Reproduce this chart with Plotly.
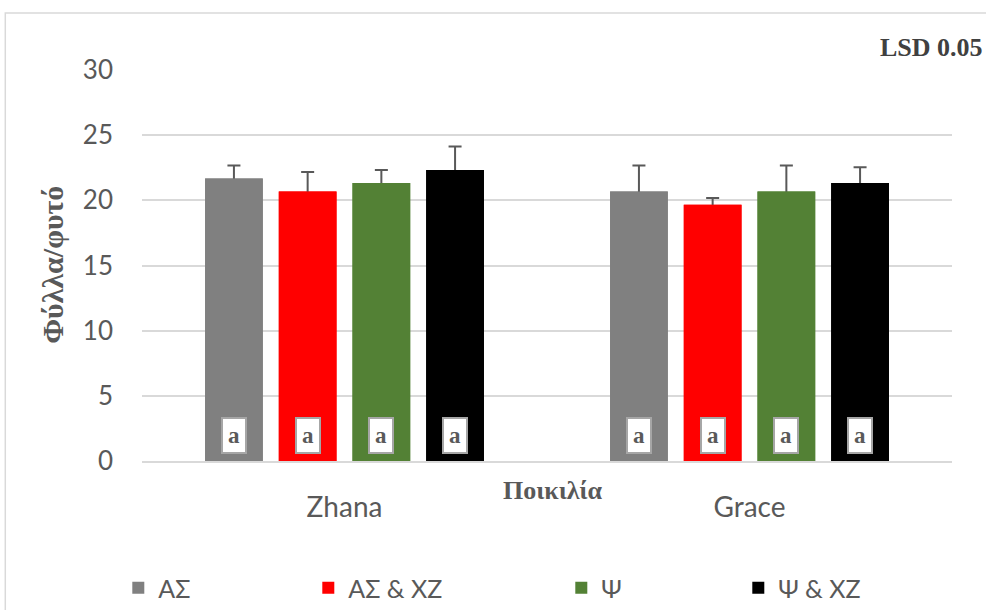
import plotly.graph_objects as go

# Varieties and treatments
varieties = ["Zhana", "Grace"]
treatments = ["ΑΣ", "ΑΣ & XZ", "Ψ", "Ψ & XZ"]
colors = ["#808080", "#ff0000", "#538135", "#000000"]

# Mean leaves per plant and error (Zhana, Grace) for each treatment
means = {
    "ΑΣ": [21.67, 20.67],
    "ΑΣ & XZ": [20.67, 19.67],
    "Ψ": [21.33, 20.67],
    "Ψ & XZ": [22.33, 21.33],
}
errors = {
    "ΑΣ": [1.0, 2.0],
    "ΑΣ & XZ": [1.5, 0.5],
    "Ψ": [1.0, 2.0],
    "Ψ & XZ": [1.8, 1.2],
}
# Significance letters (LSD 0.05)
letters = {
    "ΑΣ": ["a", "a"],
    "ΑΣ & XZ": ["a", "a"],
    "Ψ": ["a", "a"],
    "Ψ & XZ": ["a", "a"],
}
y_ticks = [0, 5, 10, 15, 20, 25, 30]

W, H = 986, 610
L, R, T, B = 141.7, 34.3, 70, 149
BARGAP = 0.272
GROUPGAP = 0.217
TEXT = "#595959"
GRID = "#d9d9d9"

fig = go.Figure()
legend_ids = ["legend", "legend2", "legend3", "legend4"]
# Bars carrying the error bars
for t, c, lg in zip(treatments, colors, legend_ids):
    fig.add_trace(go.Bar(
        name=t, x=varieties, y=means[t], marker_color=c, marker_line_width=0,
        error_y=dict(type="data", array=errors[t], visible=True, color=TEXT,
                     thickness=2, width=6.5),
        legend=lg,
    ))
# Same bars on an overlaid axis so only the upper whisker shows
for t, c in zip(treatments, colors):
    fig.add_trace(go.Bar(
        name=t, x=varieties, y=means[t], marker_color=c, marker_line_width=0,
        xaxis="x2", showlegend=False, hoverinfo="skip",
    ))

# Letter boxes at the foot of each bar
slot = (1 - BARGAP) / len(treatments)
annotations = []
for i, t in enumerate(treatments):
    for j, v in enumerate(varieties):
        annotations.append(dict(
            x=j + (i - (len(treatments) - 1) / 2) * slot, y=0, xref="x", yref="y",
            yanchor="bottom", yshift=7, text="<b>%s</b>" % letters[t][j],
            showarrow=False, bgcolor="white", bordercolor="#a6a6a6", borderwidth=2,
            borderpad=0, width=22, height=33,
            font=dict(family="Liberation Serif", size=23, color=TEXT),
        ))

pw = W - L - R
ph = H - T - B
def px(xpix):
    return (xpix - L) / pw
def py(ypix):
    return (H - B - ypix) / ph

annotations.append(dict(
    x=px(553), y=py(507), xref="paper", yref="paper", showarrow=False,
    text="<b>Ποικιλία</b>", font=dict(family="Liberation Serif", size=26, color=TEXT),
))
annotations.append(dict(
    x=px(33), y=py(265), xref="paper", yref="paper", showarrow=False, textangle=-90,
    text="<b>Φύλλα/φυτό</b>", font=dict(family="Liberation Serif", size=30, color=TEXT),
))
annotations.append(dict(
    x=px(985), y=py(31), xref="paper", yref="paper", showarrow=False, xanchor="right",
    text="<b>LSD 0.05</b>", font=dict(family="Liberation Serif", size=26, color="#404040"),
))

legend_x = [118, 308, 561, 738]
legend_cfg = {}
for lg, lx in zip(legend_ids, legend_x):
    legend_cfg[lg] = dict(
        x=px(lx), y=py(588), xanchor="left", yanchor="middle", orientation="h",
        font=dict(family="Lato", size=25, color=TEXT), bgcolor="rgba(0,0,0,0)",
        itemwidth=30,
    )

fig.update_layout(
    width=W, height=H, margin=dict(l=L, r=R, t=T, b=B, pad=0, autoexpand=False),
    paper_bgcolor="white", plot_bgcolor="white",
    barmode="group", bargap=BARGAP, bargroupgap=GROUPGAP,
    showlegend=True,
    xaxis=dict(
        type="category", showgrid=False, showline=True, linecolor=GRID, linewidth=2,
        tickfont=dict(family="Lato", size=28, color=TEXT), ticks="", ticklabelstandoff=20,
        zeroline=False,
    ),
    xaxis2=dict(
        type="category", overlaying="x", matches="x", showgrid=False, showline=False,
        showticklabels=False, ticks="", zeroline=False,
    ),
    yaxis=dict(
        range=[0, 30], tickvals=y_ticks, showgrid=True, gridcolor=GRID, gridwidth=2,
        zeroline=False, showline=False, ticks="",
        tickfont=dict(family="Lato", size=26, color=TEXT), ticklabelstandoff=28,
    ),
    annotations=annotations,
    shapes=[dict(
        type="rect", xref="paper", yref="paper",
        x0=px(5), x1=px(W + 20), y0=py(H + 20), y1=py(13),
        line=dict(color=GRID, width=1.5), fillcolor="rgba(0,0,0,0)", layer="below",
    )],
    **legend_cfg,
)

fig.write_html("out.html")
